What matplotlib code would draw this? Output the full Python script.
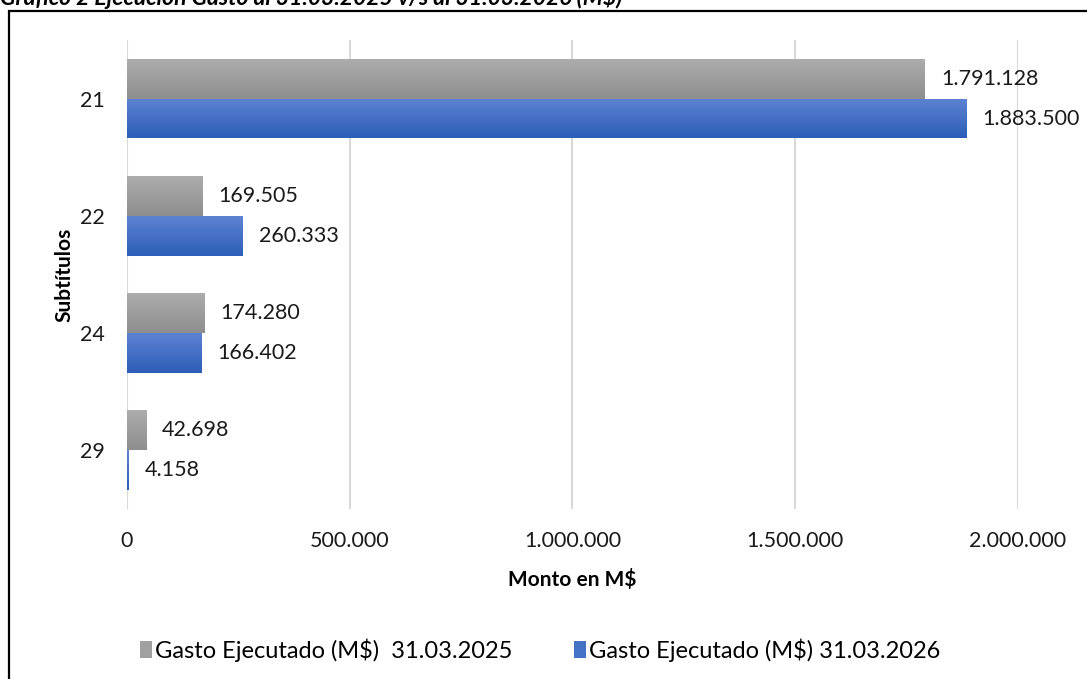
import matplotlib
matplotlib.use("Agg")
import matplotlib.pyplot as plt
import numpy as np
from matplotlib.colors import LinearSegmentedColormap
from matplotlib.patches import Rectangle

plt.rcParams['font.family'] = ['Lato', 'DejaVu Sans']

# datos
subtitulos = ['21', '22', '24', '29']
gasto_2025 = [1791128, 169505, 174280, 42698]
gasto_2026 = [1883500, 260333, 166402, 4158]
serie_2025 = 'Gasto Ejecutado (M$)  31.03.2025'
serie_2026 = 'Gasto Ejecutado (M$) 31.03.2026'
x_ticks = [0, 500000, 1000000, 1500000, 2000000]
titulo = 'Gráfico 2 Ejecución Gasto al 31.03.2025 v/s al 31.03.2026 (M$)'


def miles(v):
    return f"{v:,}".replace(",", ".")


fig = plt.figure(figsize=(10.87, 6.79), dpi=100)
ax = fig.add_axes([0.1168, 0.2504, 0.8197, 0.6907])

n = len(subtitulos)
pos = np.arange(n)[::-1]  # 21 arriba
h = 0.34

gris = LinearSegmentedColormap.from_list('gris', ['#acacac', '#8e8e8e'])
azul = LinearSegmentedColormap.from_list('azul', ['#5d82d2', '#2d5eb8'])
grad = np.linspace(0, 1, 64).reshape(-1, 1)

b1 = ax.barh(pos + h / 2, gasto_2025, height=h, color='#a0a0a0', zorder=2)
b2 = ax.barh(pos - h / 2, gasto_2026, height=h, color='#4472c4', zorder=2)

# degradado vertical en cada barra, estilo Excel
for bars, cmap in ((b1, gris), (b2, azul)):
    for p in bars:
        x0, y0 = p.get_x(), p.get_y()
        im = ax.imshow(grad, cmap=cmap, aspect='auto', origin='upper',
                       extent=(x0, x0 + p.get_width(), y0, y0 + p.get_height()),
                       zorder=2.5)
        im.set_clip_path(p)

for bars, vals in ((b1, gasto_2025), (b2, gasto_2026)):
    for p, v in zip(bars, vals):
        ax.annotate(miles(v), (p.get_width(), p.get_y() + p.get_height() / 2),
                    xytext=(11.5, 0), textcoords='offset points',
                    ha='left', va='center', fontsize=15.5, color='#1a1a1a')

ax.set_xlim(0, 2000000)
ax.set_ylim(-0.5, n - 0.5)
ax.set_xticks(x_ticks)
ax.set_xticklabels([miles(t) for t in x_ticks], fontsize=15.5)
ax.set_yticks(pos)
ax.set_yticklabels(subtitulos, fontsize=15.5)
ax.tick_params(length=0, pad=16, colors='#1a1a1a')
ax.tick_params(axis='x', pad=16)
ax.grid(axis='x', color='#d9d9d9', linewidth=1.5, zorder=0)
ax.set_axisbelow(True)
for s in ax.spines.values():
    s.set_visible(False)

ax.set_xlabel('Monto en M$', fontsize=15, fontweight='bold', labelpad=13)
ax.set_ylabel('Subtítulos', fontsize=15, fontweight='bold', labelpad=4)

fig.legend([b1, b2], [serie_2025, serie_2026], loc='center',
           bbox_to_anchor=(0.497, 0.043), ncol=2, frameon=False,
           fontsize=17, handlelength=0.5, handleheight=0.7,
           handletextpad=0.15, columnspacing=2.6)

# marco del gráfico
fig.add_artist(Rectangle((9 / 1087, -0.05), 1.2, 1 - 11 / 679 + 0.05,
                         transform=fig.transFigure, fill=False,
                         edgecolor='black', linewidth=1.6, clip_on=False))

fig.text(0.0, 1 - 5 / 679, titulo, ha='left', va='baseline', fontsize=16.5,
         fontweight='bold', fontstyle='italic')

fig.savefig('out.png', dpi=100)
